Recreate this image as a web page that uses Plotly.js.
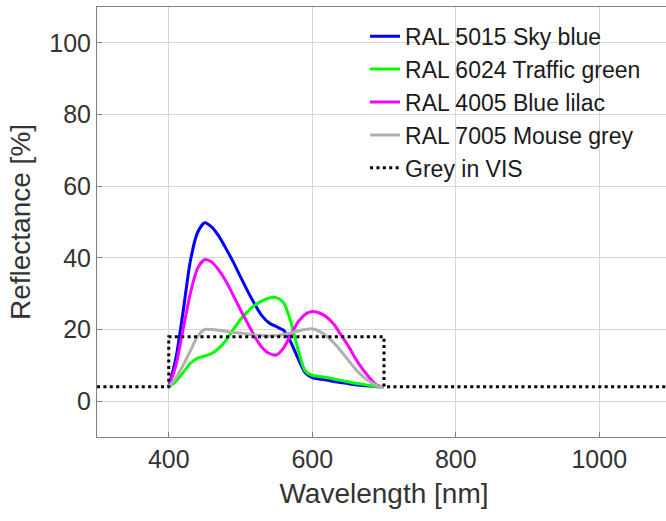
<!DOCTYPE html>
<html>
<head>
<meta charset="utf-8">
<script src="https://cdn.plot.ly/plotly-3.0.1.min.js"></script>
<style>
html,body{margin:0;padding:0;overflow:hidden;background:#fff;width:666px;height:521px;}
#chart{width:680px;height:521px;}
</style>
</head>
<body>
<div id="chart"></div>
<script>
// Wavelength samples [nm]
var wavelength = [400,410,420,430,440,450,460,470,480,490,500,510,520,530,540,550,560,570,580,590,600,610,620,630,640,650,660,670,680,690,700];

// Reflectance [%]
var skyBlue = [4,12,25,39,47,49.8,48.6,46,42.5,38.8,34.7,30.7,27,23.8,21.8,20.8,19.8,16.5,12,8,6.6,6.2,5.9,5.5,5.2,4.9,4.6,4.4,4.2,4.05,4];
var trafficGreen = [4,5.5,8,10.5,12,12.6,13.3,14.8,17,20,22.8,25,26.8,28,28.8,28.9,27.5,22.2,14.5,8.5,7.2,6.9,6.6,6.2,5.8,5.4,5,4.7,4.4,4.1,4];
var blueLilac = [4,10,20,30,37,39.5,38.8,36.5,33.4,29.5,25.5,21.7,18,15,13.3,12.9,14.8,18.5,22,24.2,25,24.6,23.5,21.5,18.5,15.5,12,9,6.5,4.5,4];
var mouseGrey = [4,6.5,10,14,18,20,20,19.8,19.5,19.2,19,18.7,18.5,18.3,18.2,18.3,18.6,19.1,19.6,20,20.2,19.5,18.2,16.3,14,11.5,9,7,5.5,4.3,4];

// Grey in VIS step reference
var greyVisX = [300,400,400,700,700,1100];
var greyVisY = [4,4,18,18,4,4];

var seriesNames = ['RAL 5015 Sky blue','RAL 6024 Traffic green','RAL 4005 Blue lilac','RAL 7005 Mouse grey','Grey in VIS'];
var seriesColors = ['#0000ff','#00ff00','#ff00ff','#b0b0b0','#000000'];

var curves = [skyBlue, trafficGreen, blueLilac, mouseGrey];
var traces = curves.map(function(ys, i){
  return {x: wavelength, y: ys, type:'scatter', mode:'lines', name: seriesNames[i],
    line:{color: seriesColors[i], width:3, shape:'spline', smoothing:0.7}};
});
traces.push({x: greyVisX, y: greyVisY, type:'scatter', mode:'lines', name: seriesNames[4],
  line:{color: seriesColors[4], width:3, dash:'3px,3.4px'}});

var fontFam = '"Liberation Sans", Arial, Helvetica, sans-serif';
var layout = {
  width: 680, height: 521,
  margin: {l:97, r:9, t:7, b:84, pad:0},
  paper_bgcolor:'#fff', plot_bgcolor:'#fff',
  font:{family: fontFam, color:'#262626'},
  showlegend: true,
  legend:{x:0.467, xanchor:'left', y:0.982, yanchor:'top', bgcolor:'rgba(0,0,0,0)',
    font:{family: fontFam, size:23, color:'#1a1a1a'}, tracegroupgap:0},
  xaxis:{range:[300,1100], dtick:200, tick0:0, showgrid:true, gridcolor:'#d6d6d6', gridwidth:1,
    zeroline:false, showline:true, linecolor:'#808080', linewidth:1, mirror:true,
    ticks:'inside', ticklen:5, tickcolor:'#808080',
    tickfont:{size:25, color:'#333', family: fontFam},
    title:{text:'Wavelength [nm]', font:{size:28, color:'#333', family: fontFam}, standoff:11}},
  yaxis:{range:[-10,110], dtick:20, tick0:0, showgrid:true, gridcolor:'#d6d6d6', gridwidth:1,
    zeroline:false, showline:true, linecolor:'#808080', linewidth:1, mirror:true,
    ticks:'inside', ticklen:5, tickcolor:'#808080',
    tickfont:{size:25, color:'#333', family: fontFam},
    title:{text:'Reflectance [%]', font:{size:28, color:'#333', family: fontFam}, standoff:10}}
};

Plotly.newPlot('chart', traces, layout, {displayModeBar:false, staticPlot:true});
</script>
</body>
</html>
